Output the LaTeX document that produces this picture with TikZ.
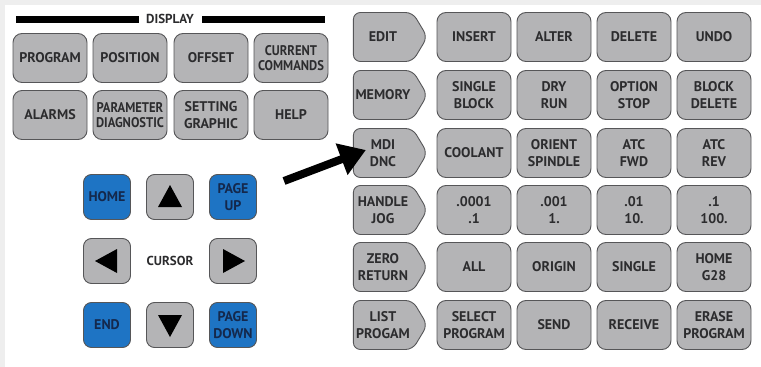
\documentclass[tikz,border=0pt]{standalone}
\usepackage{fontspec}
\setmainfont{PT Sans}
\newfontfamily\narrowkey[FakeStretch=0.9]{PT Sans}
\usetikzlibrary{arrows.meta,positioning,calc,shapes.symbols}
\definecolor{keyfill}{RGB}{180,180,182}
\definecolor{keyline}{RGB}{86,86,88}
\definecolor{keytext}{RGB}{44,44,46}
\definecolor{keyblue}{RGB}{30,116,196}
\definecolor{bluetext}{RGB}{20,40,76}
\definecolor{pagegray}{RGB}{238,238,238}

\begin{document}
\begin{tikzpicture}[
  x=1pt, y=-1pt,
  font=\fontsize{14}{16.5}\selectfont\bfseries,
  key/.style={draw=keyline, fill=keyfill, text=keytext, line width=0.9pt, rounded corners=9pt,
    minimum width=74pt, minimum height=49pt, align=center, inner sep=1pt},
  modekey/.style={key, shape=signal, signal to=east, signal pointer angle=118, rounded corners=7pt},
  cursorkey/.style={key, minimum width=47pt, minimum height=45pt, rounded corners=8pt},
  bluekey/.style={cursorkey, fill=keyblue, text=bluetext},
  small/.style={font=\fontsize{14}{15.5}\selectfont\narrowkey\bfseries},
  label/.style={text=keytext, font=\fontsize{13}{15}\selectfont\bfseries},
  pointer/.style={line width=8pt, -{Triangle[length=26pt,width=32pt]}}
]
\useasboundingbox (0,0) rectangle (761,367);
\fill[pagegray] (0,0) rectangle (761,367);
\fill[white] (5,5) rectangle (761,367);

% display group
\node[label] (disp) at (170,19) {DISPLAY};
\fill[black] (16,16) rectangle (139,23);
\fill[black] (202,16) rectangle (325,23);
\node[key] (prog) at (50,58) {PROGRAM};
\node[key] (pos) at (130,58) {POSITION};
\node[key] (offs) at (211,58) {OFFSET};
\node[key, small] (curcmd) at (291,58) {CURRENT\\COMMANDS};
\node[key] (alarm) at (50,115) {ALARMS};
\node[key, small] (param) at (130,115) {PARAMETER\\DIAGNOSTIC};
\node[key] (setg) at (211,115) {SETTING\\GRAPHIC};
\node[key] (help) at (291,115) {HELP};

% cursor block
\node[bluekey] (home) at (107,197) {HOME};
\node[cursorkey] (up) at (170,197) {};
\node[bluekey] (pgup) at (233,197) {PAGE\\UP};
\node[cursorkey] (left) at (107,261) {};
\node[label] (cursor) at (170,261) {CURSOR};
\node[cursorkey] (right) at (233,261) {};
\node[bluekey] (end) at (107,325) {END};
\node[cursorkey] (down) at (170,325) {};
\node[bluekey] (pgdn) at (233,325) {PAGE\\DOWN};
\fill[black] ($(up)+(0,-12)$) -- ($(up)+(12,10)$) -- ($(up)+(-12,10)$) -- cycle;
\fill[black] ($(down)+(0,12)$) -- ($(down)+(12,-10)$) -- ($(down)+(-12,-10)$) -- cycle;
\fill[black] ($(left)+(-12,0)$) -- ($(left)+(10,-12)$) -- ($(left)+(10,12)$) -- cycle;
\fill[black] ($(right)+(12,0)$) -- ($(right)+(-10,-12)$) -- ($(right)+(-10,12)$) -- cycle;

% mode keys
\node[modekey] (edit) at (383,37) {EDIT};
\node[modekey] (mem) at (383,95) {MEMORY};
\node[modekey] (mdi) at (383,153) {MDI\\DNC};
\node[modekey] (hjog) at (383,210) {HANDLE\\JOG};
\node[modekey] (zret) at (383,267) {ZERO\\RETURN};
\node[modekey] (list) at (383,325) {LIST\\PROGAM};

% function keys
\node[key] (ins) at (474,37) {INSERT};
\node[key] (alt) at (554,37) {ALTER};
\node[key] (del) at (634,37) {DELETE};
\node[key] (undo) at (714,37) {UNDO};
\node[key] (sblk) at (474,95) {SINGLE\\BLOCK};
\node[key] (dry) at (554,95) {DRY\\RUN};
\node[key] (ostop) at (634,95) {OPTION\\STOP};
\node[key] (bdel) at (714,95) {BLOCK\\DELETE};
\node[key] (cool) at (474,153) {COOLANT};
\node[key] (orient) at (554,153) {ORIENT\\SPINDLE};
\node[key] (atcf) at (634,153) {ATC\\FWD};
\node[key] (atcr) at (714,153) {ATC\\REV};
\node[key] (inc1) at (474,210) {.0001\\.1};
\node[key] (inc2) at (554,210) {.001\\1.};
\node[key] (inc3) at (634,210) {.01\\10.};
\node[key] (inc4) at (714,210) {.1\\100.};
\node[key] (all) at (474,267) {ALL};
\node[key] (orig) at (554,267) {ORIGIN};
\node[key] (sngl) at (634,267) {SINGLE};
\node[key] (hg28) at (714,267) {HOME\\G28};
\node[key] (selp) at (474,325) {SELECT\\PROGRAM};
\node[key] (send) at (554,325) {SEND};
\node[key] (recv) at (634,325) {RECEIVE};
\node[key] (erase) at (714,325) {ERASE\\PROGRAM};

% pointer to MDI
\coordinate (ptr) at (284,181);
\draw[pointer] (ptr) -- ([xshift=13pt,yshift=3pt]mdi.west);
\end{tikzpicture}
\end{document}
